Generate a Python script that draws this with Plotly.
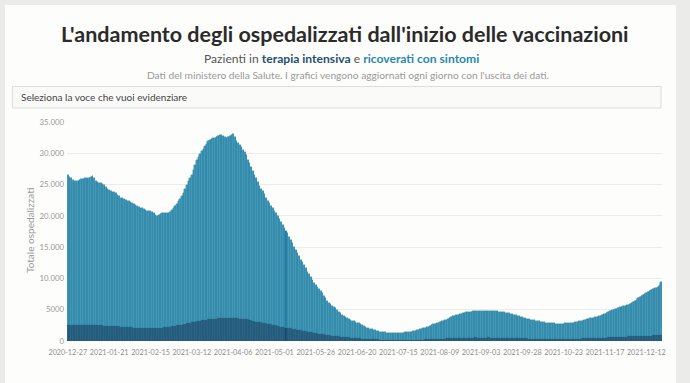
import plotly.graph_objects as go
import pandas as pd

# ---------------- data ----------------
start_date = "2020-12-27"
highlight_date = "2021-05-08"

terapia_intensiva = [
    2565, 2549, 2528, 2555, 2553, 2569, 2566, 2579, 2585, 2569,
    2571, 2587, 2594, 2604, 2613, 2615, 2587, 2557, 2542, 2530,
    2522, 2487, 2461, 2442, 2418, 2400, 2399, 2384, 2372, 2352,
    2333, 2320, 2305, 2290, 2268, 2252, 2236, 2215, 2180, 2170,
    2150, 2143, 2128, 2126, 2115, 2096, 2092, 2085, 2074, 2061,
    2074, 2096, 2094, 2076, 2063, 2079, 2108, 2146, 2168, 2194,
    2215, 2231, 2289, 2351, 2411, 2475, 2525, 2571, 2605, 2627,
    2700, 2756, 2827, 2859, 2914, 2971, 3034, 3081, 3157, 3204,
    3256, 3301, 3357, 3364, 3389, 3448, 3488, 3546, 3567, 3588,
    3593, 3600, 3628, 3716, 3721, 3692, 3683, 3703, 3714, 3721,
    3743, 3683, 3663, 3603, 3588, 3526, 3540, 3526, 3490, 3450,
    3366, 3311, 3244, 3151, 3087, 3021, 2999, 2979, 2943, 2880,
    2812, 2748, 2693, 2640, 2594, 2524, 2490, 2423, 2368, 2308,
    2262, 2211, 2158, 2131, 2068, 2009, 1961, 1897, 1839, 1779,
    1748, 1704, 1650, 1600, 1579, 1516, 1460, 1439, 1386, 1323,
    1285, 1240, 1198, 1142, 1123, 1061, 1034, 989, 944, 892,
    858, 816, 780, 751, 739, 694, 670, 642, 615, 583,
    562, 539, 517, 498, 467, 440, 432, 419, 396, 376,
    362, 347, 337, 322, 298, 282, 274, 259, 245, 231,
    220, 216, 204, 190, 187, 178, 176, 173, 167, 166,
    165, 158, 164, 165, 173, 172, 181, 186, 189, 189,
    195, 202, 214, 222, 230, 238, 249, 255, 269, 276,
    285, 300, 310, 324, 339, 353, 366, 376, 390, 410,
    421, 423, 431, 449, 463, 474, 482, 490, 501, 512,
    523, 527, 539, 544, 554, 556, 563, 561, 558, 554,
    547, 544, 553, 560, 565, 563, 554, 546, 538, 531,
    527, 523, 517, 512, 503, 497, 486, 481, 474, 469,
    460, 452, 446, 437, 431, 424, 416, 411, 408, 400,
    394, 389, 387, 380, 375, 371, 368, 364, 359, 357,
    353, 352, 355, 357, 355, 348, 350, 346, 344, 341,
    343, 350, 354, 360, 362, 368, 372, 375, 381, 387,
    396, 401, 410, 416, 419, 425, 436, 441, 444, 456,
    474, 481, 492, 503, 521, 535, 550, 566, 582, 597,
    614, 628, 641, 654, 667, 681, 694, 706, 711, 724,
    738, 744, 757, 763, 773, 782, 791, 801, 809, 825,
    836, 853, 862, 874, 889, 909, 922, 937, 967, 1010,
]

ricoverati_con_sintomi = [
    23900, 23720, 23450, 23250, 23060, 22940, 23000, 23110, 23230, 23390,
    23430, 23400, 23480, 23510, 23600, 23680, 23420, 23050, 22860, 22720,
    22680, 22610, 22440, 22160, 21880, 21700, 21500, 21420, 21430, 21250,
    21070, 20780, 20600, 20510, 20430, 20250, 20160, 20140, 20020, 19830,
    19700, 19560, 19370, 19320, 19190, 19100, 18960, 18820, 18780, 18740,
    18630, 18500, 18310, 18070, 17840, 18020, 18190, 18250, 18230, 18210,
    18240, 18270, 18310, 18650, 18890, 19130, 19380, 19730, 20100, 20470,
    20900, 21540, 22120, 22640, 23090, 23630, 24370, 25120, 25840, 26200,
    26640, 27000, 27340, 27740, 28110, 28450, 28610, 28750, 28830, 28910,
    29010, 29100, 29370, 29180, 29080, 28910, 28820, 28850, 28990, 29180,
    29360, 28920, 28240, 28000, 27710, 27470, 27060, 26670, 26210, 25550,
    25030, 24490, 23860, 23350, 22910, 22380, 21800, 21320, 20960, 20620,
    19990, 19650, 19310, 18960, 18610, 18280, 17910, 17580, 17130, 16690,
    16240, 15890, 15440, 15070, 14630, 14190, 13740, 13100, 12760, 12320,
    11850, 11300, 10950, 10500, 10020, 9580, 9240, 8760, 8410, 7980,
    7620, 7360, 7100, 6860, 6480, 6140, 5770, 5410, 5160, 5010,
    4740, 4580, 4420, 4250, 3960, 3710, 3480, 3310, 3190, 3070,
    2940, 2810, 2730, 2650, 2580, 2510, 2420, 2330, 2200, 2070,
    1940, 1800, 1710, 1630, 1550, 1470, 1410, 1340, 1300, 1270,
    1230, 1200, 1180, 1160, 1140, 1130, 1120, 1117, 1113, 1114,
    1125, 1142, 1146, 1165, 1187, 1218, 1239, 1274, 1311, 1361,
    1425, 1498, 1556, 1628, 1690, 1762, 1851, 1945, 2031, 2124,
    2235, 2340, 2430, 2516, 2591, 2667, 2754, 2844, 2930, 3010,
    3129, 3257, 3389, 3501, 3587, 3666, 3738, 3810, 3869, 3928,
    3977, 4033, 4071, 4116, 4146, 4184, 4207, 4229, 4242, 4266,
    4293, 4306, 4307, 4310, 4295, 4287, 4276, 4264, 4242, 4219,
    4193, 4167, 4133, 4088, 4057, 4023, 3984, 3939, 3886, 3831,
    3760, 3678, 3594, 3523, 3439, 3376, 3304, 3229, 3152, 3090,
    3026, 2971, 2923, 2870, 2815, 2759, 2702, 2656, 2621, 2583,
    2547, 2518, 2485, 2463, 2445, 2442, 2440, 2434, 2436, 2449,
    2447, 2450, 2456, 2470, 2488, 2532, 2578, 2625, 2679, 2743,
    2804, 2869, 2920, 2984, 3051, 3105, 3164, 3229, 3296, 3364,
    3426, 3489, 3548, 3617, 3729, 3845, 3960, 4074, 4188, 4303,
    4376, 4452, 4529, 4606, 4693, 4769, 4846, 4924, 5009, 5096,
    5182, 5276, 5463, 5657, 5847, 6018, 6189, 6349, 6521, 6675,
    6814, 6947, 7088, 7226, 7361, 7491, 7628, 7763, 8033, 8440,
]

y_tick_values = [0, 5000, 10000, 15000, 20000, 25000, 30000, 35000]
y_tick_labels = ["0", "5000", "10.000", "15.000", "20.000", "25.000", "30.000", "35.000"]

title_text = "L'andamento degli ospedalizzati dall'inizio delle vaccinazioni"
note_text = "Dati del ministero della Salute. I grafici vengono aggiornati ogni giorno con l'uscita dei dati."
search_text = "Seleziona la voce che vuoi evidenziare"
y_title = "Totale ospedalizzati"

# ---------------- figure ----------------
W, H = 690, 383
ML, MR, MT, MB = 67, 28, 122, 42
PW, PH = W - ML - MR, H - MT - MB


def px(x):
    return (x - ML) / PW


def py(y):
    return (H - MB - y) / PH


FONT = "Lato"
dates = pd.date_range(start_date, periods=len(terapia_intensiva), freq="D")
hl = pd.Timestamp(highlight_date)

c_ti, c_ti_hl = "#2b6485", "#134a68"
c_rc, c_rc_hl = "#4398b7", "#1e7ea2"
col_ti = [c_ti_hl if d == hl else c_ti for d in dates]
col_rc = [c_rc_hl if d == hl else c_rc for d in dates]

fig = go.Figure()
fig.add_trace(go.Bar(x=dates, y=terapia_intensiva, name="terapia intensiva",
                     marker=dict(color=col_ti, line=dict(width=0.4, color="#225775"))))
fig.add_trace(go.Bar(x=dates, y=ricoverati_con_sintomi, name="ricoverati con sintomi",
                     marker=dict(color=col_rc, line=dict(width=0.4, color="#2f84a5"))))

shapes = [
    dict(type="rect", xref="paper", yref="paper", x0=px(5), x1=px(676), y0=py(390), y1=py(5),
         fillcolor="#fdfdfb", line=dict(width=0), layer="below"),
    dict(type="rect", xref="paper", yref="paper", x0=px(12.5), x1=px(661), y0=py(108), y1=py(86.5),
         fillcolor="#fafaf8", line=dict(width=1, color="#dddddb"), layer="below"),
]

annotations = [
    dict(text="<b>" + title_text + "</b>", x=px(345), y=py(34), xref="paper", yref="paper",
         showarrow=False, xanchor="center", yanchor="middle",
         font=dict(family=FONT, size=21.5, color="#2b2b2b")),
    dict(text="Pazienti in <b><span style='color:#1f4f72'>terapia intensiva</span></b> e "
              "<b><span style='color:#2a89ad'>ricoverati con sintomi</span></b>",
         x=px(341), y=py(58), xref="paper", yref="paper", showarrow=False,
         xanchor="center", yanchor="middle", font=dict(family=FONT, size=12.1, color="#555555")),
    dict(text=note_text, x=px(348), y=py(75), xref="paper", yref="paper", showarrow=False,
         xanchor="center", yanchor="middle", font=dict(family=FONT, size=10.2, color="#9a9a9a")),
    dict(text=search_text, x=px(19), y=py(97.5), xref="paper", yref="paper", showarrow=False,
         xanchor="left", yanchor="middle", font=dict(family=FONT, size=10, color="#444444")),
    dict(text=y_title, x=px(30), y=py(231), xref="paper", yref="paper", showarrow=False,
         textangle=-90, xanchor="center", yanchor="middle",
         font=dict(family=FONT, size=10, color="#9a9a9a")),
]

fig.update_layout(
    width=W, height=H,
    margin=dict(l=ML, r=MR, t=MT, b=MB, pad=0),
    paper_bgcolor="#ebebe9",
    plot_bgcolor="rgba(0,0,0,0)",
    barmode="stack",
    bargap=0,
    showlegend=False,
    shapes=shapes,
    annotations=annotations,
    font=dict(family=FONT),
)
fig.update_xaxes(
    type="date",
    range=[pd.Timestamp(start_date) - pd.Timedelta(hours=12),
           dates[-1] + pd.Timedelta(hours=12)],
    tick0=start_date, dtick=25 * 86400000, tickformat="%Y-%m-%d", tickangle=0,
    ticklabelstandoff=6,
    showgrid=False, zeroline=False, showline=False, ticks="",
    tickfont=dict(family=FONT, size=7.2, color="#8f8f8f"),
)
fig.update_yaxes(
    range=[0, 35000], tickvals=y_tick_values, ticktext=y_tick_labels,
    ticklabelstandoff=2,
    showgrid=True, gridcolor="#ececec", gridwidth=1, zeroline=False, showline=False,
    ticks="", tickfont=dict(family=FONT, size=7.8, color="#9a9a9a"),
)

fig.write_html(
    "out.html",
    config={"displayModeBar": False},
    post_script="document.body.style.margin='0';document.body.style.overflow='hidden';",
)
